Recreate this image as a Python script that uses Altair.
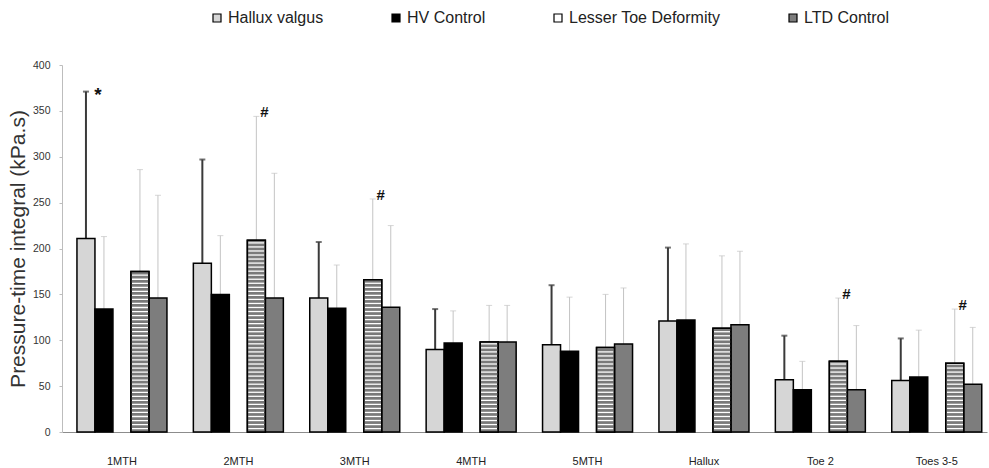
import altair as alt
import pandas as pd

# Plantar regions and subject groups
regions = ["1MTH", "2MTH", "3MTH", "4MTH", "5MTH", "Hallux", "Toe 2", "Toes 3-5"]
groups = ["Hallux valgus", "HV Control", "Lesser Toe Deformity", "LTD Control"]

# Mean pressure-time integral (kPa.s) and standard deviation per region
hv_mean = [211, 184, 146, 90, 95, 121, 57, 56]
hv_sd = [160, 113, 61, 44, 65, 80, 48, 46]
hvc_mean = [134, 150, 135, 97, 88, 122, 46, 60]
hvc_sd = [79, 64, 47, 35, 59, 83, 31, 51]
ltd_mean = [175, 209, 166, 98, 92, 113, 77, 75]
ltd_sd = [111, 135, 88, 40, 58, 79, 69, 59]
ltdc_mean = [146, 146, 136, 98, 96, 117, 46, 52]
ltdc_sd = [112, 136, 89, 40, 61, 80, 70, 62]

# Significant differences versus the matching control group
sig_regions = ["1MTH", "2MTH", "3MTH", "Toe 2", "Toes 3-5"]
sig_groups = ["Hallux valgus", "Lesser Toe Deformity", "Lesser Toe Deformity",
              "Lesser Toe Deformity", "Lesser Toe Deformity"]
sig_marks = ["*", "#", "#", "#", "#"]

# ---- tidy tables -------------------------------------------------------
means = [hv_mean, hvc_mean, ltd_mean, ltdc_mean]
sds = [hv_sd, hvc_sd, ltd_sd, ltdc_sd]
rows = []
for g, m_list, s_list in zip(groups, means, sds):
    for r, m, s in zip(regions, m_list, s_list):
        rows.append({"region": r, "group": g, "mean": m, "sd": s, "upper": m + s})
df = pd.DataFrame(rows)

sig = pd.DataFrame({"region": sig_regions, "group": sig_groups, "mark": sig_marks})
sig = sig.merge(df[["region", "group", "upper"]], on=["region", "group"])

# horizontal hatching for the Lesser Toe Deformity bars (texture only)
STRIPE_STEP = 4.4
STRIPE_DARK = 3.0
stripe_rows = []
for r, m in zip(regions, ltd_mean):
    lo = 0.0
    while lo < m:
        stripe_rows.append({"region": r, "group": "Lesser Toe Deformity",
                            "lo": lo, "hi": min(lo + STRIPE_DARK, m)})
        lo += STRIPE_STEP
stripes = pd.DataFrame(stripe_rows)

# ---- shared encodings ---------------------------------------------------
FONT = "Liberation Sans, Arial"
slots = ["Hallux valgus", "HV Control", "", "Lesser Toe Deformity", "LTD Control"]
Y_TITLE = "Pressure-time integral (kPa.s)"

x_enc = alt.X(
    "region:N", sort=regions,
    scale=alt.Scale(paddingInner=0.2268, paddingOuter=0.0868, align=0.74),
    axis=alt.Axis(title=None, labelAngle=0, ticks=False, tickSize=0,
                  domainColor="#8c8c8c", labelFont=FONT, labelFontSize=11,
                  labelColor="#222222", labelPadding=23),
)
xo_enc = alt.XOffset("group:N", scale=alt.Scale(domain=slots, paddingInner=0, paddingOuter=0))
y_scale = alt.Scale(domain=[0, 400], nice=False, zero=True)
y_axis = alt.Axis(title=Y_TITLE, values=list(range(0, 401, 50)), grid=False,
                  tickColor="#bdbdbd", tickSize=3, domainColor="#bdbdbd",
                  labelFont=FONT, labelFontSize=10.5, labelColor="#333333",
                  labelPadding=9, titleFont=FONT, titleFontSize=21,
                  titleFontWeight="normal", titleColor="#333333", titlePadding=4)

fill_scale = alt.Scale(domain=groups, range=["#d6d6d6", "#000000", "#ffffff", "#7d7d7d"])

bars = alt.Chart(df).mark_bar(stroke="#000000", strokeWidth=1.5).encode(
    x=x_enc, xOffset=xo_enc,
    y=alt.Y("mean:Q", scale=y_scale, axis=y_axis),
    fill=alt.Fill("group:N", scale=fill_scale, sort=groups,
                  legend=alt.Legend(title=None, orient="none", direction="horizontal",
                                    columns=4, legendX=147, legendY=-55,
                                    symbolType="square", symbolSize=64,
                                    symbolStrokeColor="#000000", symbolStrokeWidth=1.2,
                                    labelFont=FONT, labelFontSize=16, labelLimit=400,
                                    labelColor="#222222", labelOffset=3,
                                    columnPadding=64, padding=0)),
)

hatch = alt.Chart(stripes).mark_bar(color="#7a7a7a", strokeWidth=0).encode(
    x=x_enc, xOffset=xo_enc,
    y=alt.Y("lo:Q", scale=y_scale, axis=y_axis),
    y2="hi:Q",
)

outline = alt.Chart(df).transform_filter(
    alt.datum.group == "Lesser Toe Deformity"
).mark_bar(fillOpacity=0, stroke="#000000", strokeWidth=1.5).encode(
    x=x_enc, xOffset=xo_enc,
    y=alt.Y("mean:Q", scale=y_scale, axis=y_axis),
)

# upward error bars: dark for Hallux valgus, light grey for the others
is_hv = alt.datum.group == "Hallux valgus"
not_hv = alt.datum.group != "Hallux valgus"


def error_layers(cond, colour, width):
    rule = alt.Chart(df).transform_filter(cond).mark_rule(
        color=colour, strokeWidth=width
    ).encode(
        x=x_enc, xOffset=xo_enc,
        y=alt.Y("mean:Q", scale=y_scale, axis=y_axis),
        y2="upper:Q",
    )
    cap = alt.Chart(df).transform_filter(cond).mark_tick(
        color=colour, thickness=width, size=6
    ).encode(
        x=x_enc, xOffset=xo_enc,
        y=alt.Y("upper:Q", scale=y_scale, axis=y_axis),
    )
    return [rule, cap]


errors = error_layers(not_hv, "#c4c4c4", 1) + error_layers(is_hv, "#3a3a3a", 2)

star = alt.Chart(sig).transform_filter(alt.datum.mark == "*").mark_text(
    fontSize=19, fontWeight="bold", font=FONT, dx=12, dy=3,
    baseline="middle", color="#111111",
).encode(x=x_enc, xOffset=xo_enc,
         y=alt.Y("upper:Q", scale=y_scale, axis=y_axis), text="mark:N")

hashes = alt.Chart(sig).transform_filter(alt.datum.mark == "#").mark_text(
    fontSize=15, fontWeight="bold", font=FONT, dx=8, dy=-4,
    baseline="middle", color="#111111",
).encode(x=x_enc, xOffset=xo_enc,
         y=alt.Y("upper:Q", scale=y_scale, axis=y_axis), text="mark:N")

chart = alt.layer(*errors, bars, hatch, outline, star, hashes).properties(
    width=925, height=367,
    autosize=alt.AutoSizeParams(type="none"),
    padding={"left": 62, "top": 65, "right": 2, "bottom": 36},
    background="white",
).configure_view(stroke=None)

chart.save("out.html", embed_options={"renderer": "svg", "actions": False})
